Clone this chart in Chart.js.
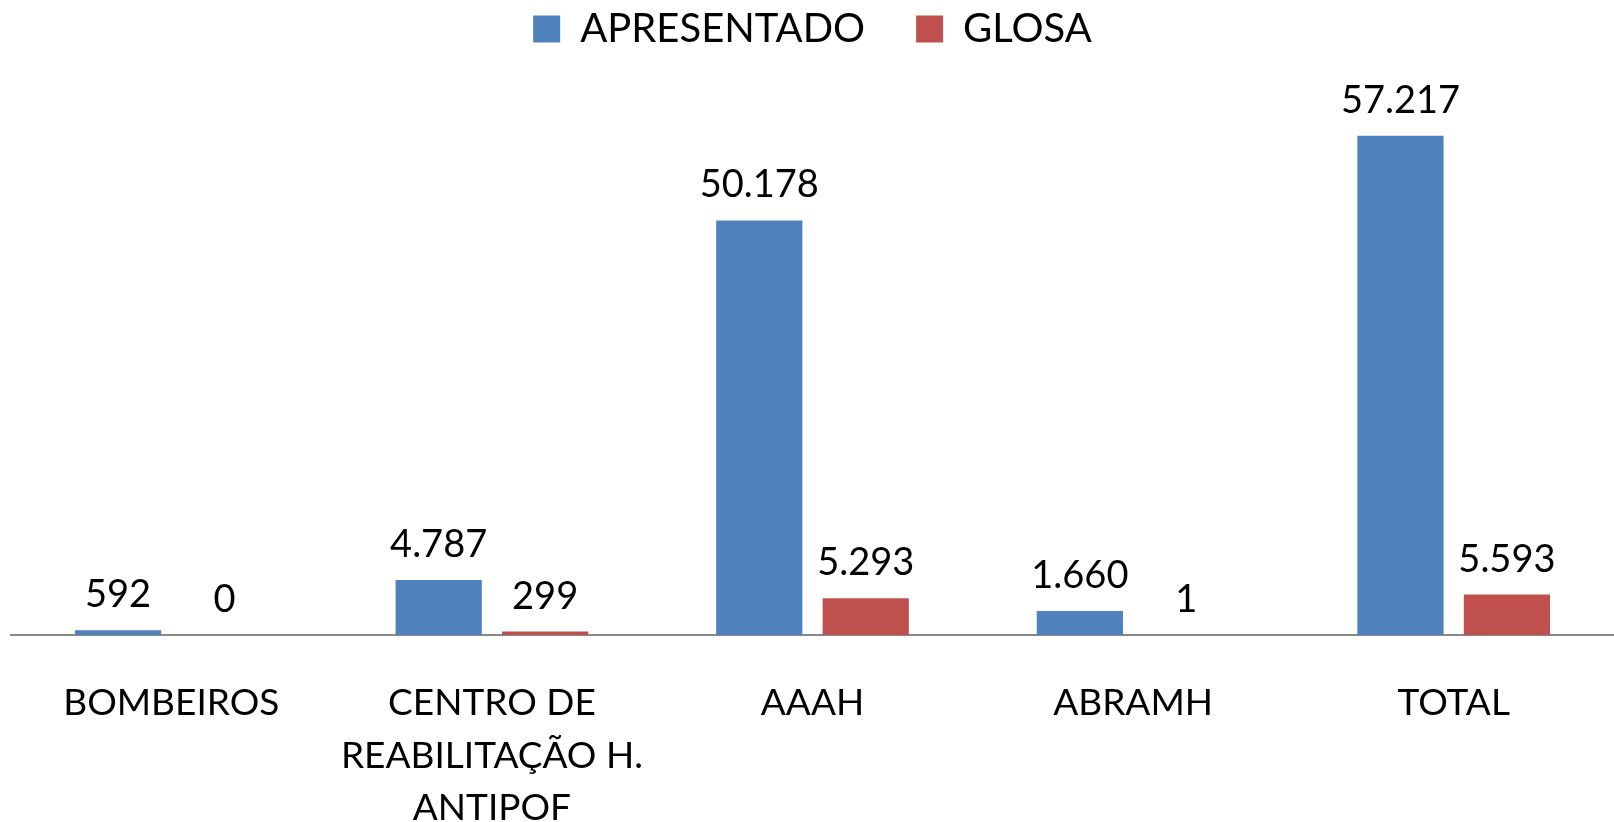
<!DOCTYPE html>
<html>
<head>
<meta charset="utf-8">
<script src="https://cdn.jsdelivr.net/npm/chart.js@4/dist/chart.umd.min.js"></script>
<style>
  html, body { margin: 0; padding: 0; background: #fff; }
  #wrap { width: 1614px; height: 822px; }
</style>
</head>
<body>
<div id="wrap"><canvas id="chart"></canvas></div>
<script>
// data
const categories = ['BOMBEIROS', ['CENTRO DE', 'REABILITAÇÃO H.', 'ANTIPOF'], 'AAAH', 'ABRAMH', 'TOTAL'];
const seriesNames = ['APRESENTADO', 'GLOSA'];
// numbers printed above the bars
const apresentadoLabels = [592, 4787, 50178, 1660, 57217];
const glosaLabels = [0, 299, 5293, 1, 5593];
// bar heights as drawn in the picture (they do not follow the printed numbers exactly)
const apresentadoBars = [540, 6300, 47500, 2750, 57217];
const glosaBars = [0, 400, 4220, 1, 4640];

const FONT = 'Lato';

function formatBR(v) {
  return String(v).replace(/\B(?=(\d{3})+(?!\d))/g, '.');
}

// numbers above each bar
const valueLabels = {
  id: 'valueLabels',
  afterDatasetsDraw(chart) {
    const ctx = chart.ctx;
    ctx.save();
    ctx.font = '38px ' + FONT;
    ctx.fillStyle = '#000';
    ctx.textAlign = 'center';
    ctx.textBaseline = 'alphabetic';
    chart.data.datasets.forEach((ds, i) => {
      chart.getDatasetMeta(i).data.forEach((bar, j) => {
        ctx.fillText(formatBR(ds.printed[j]), bar.x, bar.y - 23);
      });
    });
    ctx.restore();
  }
};

new Chart(document.getElementById('chart'), {
  type: 'bar',
  data: {
    labels: categories,
    datasets: [
      {
        label: seriesNames[0],
        data: apresentadoBars,
        printed: apresentadoLabels,
        backgroundColor: '#4F81BD',
        borderWidth: 0,
        categoryPercentage: 0.664,
        barPercentage: 0.81
      },
      {
        label: seriesNames[1],
        data: glosaBars,
        printed: glosaLabels,
        backgroundColor: '#C0504D',
        borderWidth: 0,
        categoryPercentage: 0.664,
        barPercentage: 0.81
      }
    ]
  },
  options: {
    responsive: true,
    maintainAspectRatio: false,
    animation: false,
    layout: { padding: { top: -42, left: 11, right: 0, bottom: 0 } },
    plugins: {
      legend: {
        position: 'top',
        labels: {
          font: { family: FONT, size: 40 },
          color: '#000',
          boxWidth: 27,
          boxHeight: 27,
          padding: 51
        }
      },
      tooltip: { enabled: false }
    },
    scales: {
      x: {
        grid: { display: false, drawTicks: false },
        border: { display: true, color: '#888888', width: 2 },
        ticks: {
          font: { family: FONT, size: 37, lineHeight: 1.42 },
          color: '#000',
          padding: 42,
          maxRotation: 0,
          autoSkip: false
        },
        afterFit: (scale) => { scale.height = 187; }
      },
      y: { display: false, min: 0, max: 66000 }
    }
  },
  plugins: [valueLabels]
});
</script>
</body>
</html>
